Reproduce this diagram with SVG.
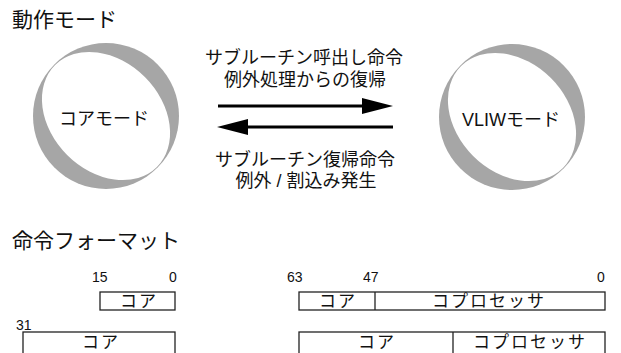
<svg xmlns="http://www.w3.org/2000/svg" width="621" height="353" viewBox="0 0 621 353">
<style>
text{font-family:"Liberation Sans","Noto Sans CJK JP",sans-serif;fill:#111}
.h{font-size:21px}
.m{font-size:18px;text-anchor:middle}
.l{font-size:18px;text-anchor:middle}
.n{font-size:14px}
.b{font-size:17px;text-anchor:middle;letter-spacing:2px}
.box{fill:#fff;stroke:#222;stroke-width:1.3}
.ring{fill:#a6a6a6}
.in{fill:#fff}
.arr{stroke:#000;stroke-width:3;fill:none}
</style>
<rect width="621" height="353" fill="#fff"/>
<text class="h" x="12" y="27">動作モード</text>
<g id="core-mode">
<circle class="ring" cx="106" cy="116" r="73"/>
<ellipse class="in" cx="106" cy="116" rx="72" ry="55" transform="rotate(45 106 116)"/>
<text class="m" x="104" y="125">コアモード</text>
</g>
<g id="vliw-mode">
<circle class="ring" cx="512" cy="117" r="73"/>
<ellipse class="in" cx="512" cy="117" rx="72" ry="55" transform="rotate(45 512 117)"/>
<text class="m" x="511" y="126">VLIWモード</text>
</g>
<g id="connectors">
<line class="arr" x1="218" y1="106" x2="365" y2="106"/>
<path d="M362,98 L393,106 L362,114 Z" fill="#000"/>
<line class="arr" x1="393" y1="127" x2="246" y2="127"/>
<path d="M248,119 L217,127 L248,135 Z" fill="#000"/>
</g>
<g id="labels">
<text class="l" x="304" y="64">サブルーチン呼出し命令</text>
<text class="l" x="305" y="86">例外処理からの復帰</text>
<text class="l" x="305" y="166">サブルーチン復帰命令</text>
<text class="l" x="306" y="187">例外 / 割込み発生</text>
</g>
<text class="h" x="12" y="248">命令フォーマット</text>
<g id="fmt16">
<text class="n" x="92" y="282">15</text>
<text class="n" x="169" y="282">0</text>
<rect class="box" x="100" y="292" width="75" height="18"/>
<text class="b" x="139" y="307">コア</text>
</g>
<g id="fmt32">
<text class="n" x="16" y="330">31</text>
<rect class="box" x="23" y="332" width="152" height="24"/>
<text class="b" x="101" y="348">コア</text>
</g>
<g id="fmt64a">
<text class="n" x="287" y="282">63</text>
<text class="n" x="363" y="282">47</text>
<text class="n" x="597" y="282">0</text>
<rect class="box" x="299" y="292" width="306" height="18"/>
<line class="box" x1="375" y1="292" x2="375" y2="310"/>
<text class="b" x="338" y="307">コア</text>
<text class="b" x="489" y="307">コプロセッサ</text>
</g>
<g id="fmt64b">
<rect class="box" x="299" y="332" width="306" height="24"/>
<line class="box" x1="453" y1="332" x2="453" y2="356"/>
<text class="b" x="377" y="348">コア</text>
<text class="b" x="530" y="348">コプロセッサ</text>
</g>
</svg>
